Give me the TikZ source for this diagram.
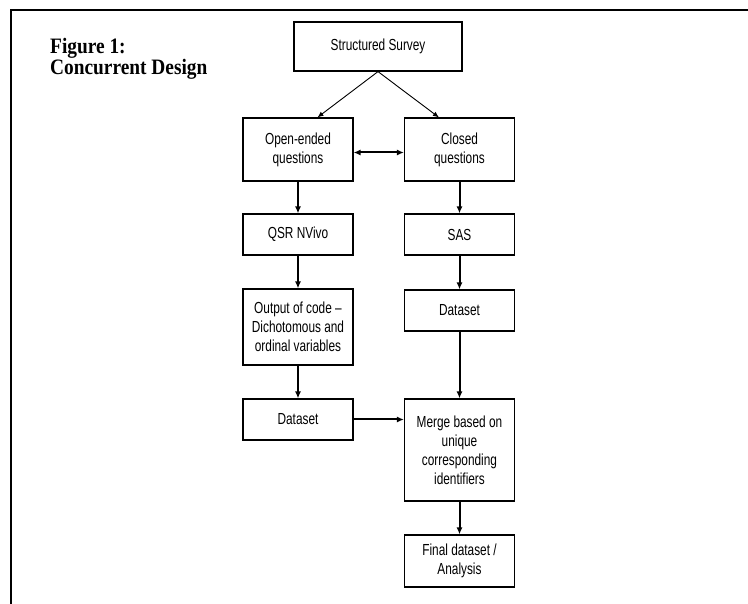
\documentclass[tikz,border=0pt]{standalone}
\usepackage{fontspec}
\setmainfont{Liberation Serif}
\newfontfamily\boxfont[FakeStretch=0.74,Ligatures=TeX]{Liberation Sans}
\newfontfamily\titlefont[FakeStretch=0.88]{Liberation Serif}
\usetikzlibrary{arrows.meta,calc}
\tikzset{
  box/.style={draw, line width=1.2pt, align=center, inner sep=2pt,
    font=\boxfont\fontsize{16}{19}\selectfont, minimum width=110pt},
  thinarrow/.style={line width=0.9pt, -{Latex[length=6pt,width=5pt]}},
  thickarrow/.style={line width=2pt, -{Latex[length=7pt,width=6pt]}},
  dblarrow/.style={line width=2pt, {Latex[length=7pt,width=6pt]}-{Latex[length=7pt,width=6pt]}},
  frameline/.style={line width=2.2pt}
}
\begin{document}
\begin{tikzpicture}[x=1pt,y=-1pt]
\useasboundingbox (0,0) rectangle (748,604);
% frame
\draw[frameline] (11,604) -- (11,10) -- (748,10);
% title
\node[anchor=north west, align=left, inner sep=0pt,
      font=\titlefont\bfseries\fontsize{22}{21.5}\selectfont] (title) at (50,38)
  {Figure 1:\\Concurrent Design};
% boxes
\node[box, minimum width=168pt, minimum height=49pt] (ss) at (378,46.5) {Structured Survey};
\node[box, minimum height=63pt] (oe) at (298,149.5) {Open-ended\\questions};
\node[box, minimum height=63pt] (cq) at (459.5,149.5) {Closed\\questions};
\node[box, minimum height=41pt] (qsr) at (298,234.5) {QSR NVivo};
\node[box, minimum height=41pt] (sas) at (459.5,234.5) {SAS};
\node[box, minimum height=76pt] (out) at (298,327) {Output of code –\\Dichotomous and\\ordinal variables};
\node[box, minimum height=41pt] (ds2) at (459.5,310.5) {Dataset};
\node[box, minimum height=41pt] (ds1) at (298,419.5) {Dataset};
\node[box, minimum height=102pt] (merge) at (459.5,450) {Merge based on\\unique\\corresponding\\identifiers};
\node[box, minimum height=52pt] (final) at (459.5,561) {Final dataset /\\Analysis};
% connectors
\draw[thinarrow] (ss.south) -- ($(oe.north)!0.35!(oe.north east)$);
\draw[thinarrow] (ss.south) -- ($(cq.north)!0.37!(cq.north west)$);
\draw[dblarrow] ($(oe.east)+(0,3)$) -- ($(oe.east -| cq.west)+(0,3)$);
\draw[thickarrow] (oe.south) -- (qsr.north);
\draw[thickarrow] (cq.south) -- (sas.north);
\draw[thickarrow] (qsr.south) -- (out.north);
\draw[thickarrow] (sas.south) -- (ds2.north);
\draw[thickarrow] (out.south) -- (ds1.north);
\draw[thickarrow] (ds2.south) -- (merge.north);
\draw[thickarrow] (ds1.east) -- (ds1.east -| merge.west);
\draw[thickarrow] (merge.south) -- (final.north);
\end{tikzpicture}
\end{document}
